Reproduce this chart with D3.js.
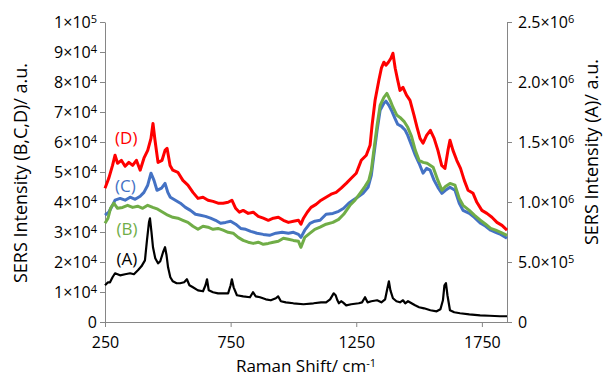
<!DOCTYPE html>
<html>
<head>
<meta charset="utf-8">
<script src="https://cdn.jsdelivr.net/npm/d3@7"></script>
<style>
  body { margin: 0; background: #fff; }
  svg { display: block; font-family: "Open Sans", sans-serif; }
</style>
</head>
<body>
<div id="chart"></div>
<script>
// values: [Raman shift (cm-1), intensity]
// (B), (C), (D) go on the left axis, (A) on the right axis
const seriesD = [
  [250,44600],[265,47900],[280,52200],[290,55600],[300,52900],[315,53900],[330,51900],[345,53200],
  [360,52200],[375,53900],[390,50600],[405,54600],[420,57200],[433,61200],[441,66200],[449,60600],
  [461,53200],[477,53900],[489,57200],[497,57900],[509,52200],[520,50600],[540,49900],[560,47200],
  [580,45600],[600,43200],[620,41200],[640,41600],[660,40600],[680,40200],[700,39600],[720,39600],
  [740,39900],[755,40600],[770,37900],[785,36600],[800,37200],[820,36200],[840,36600],[860,35200],
  [880,34600],[900,33900],[920,34600],[940,34900],[960,33900],[980,33200],[1000,33600],[1020,33900],
  [1030,32600],[1040,34600],[1055,36600],[1070,38200],[1090,39200],[1110,40600],[1130,41600],[1150,42600],
  [1170,43200],[1190,44600],[1210,46200],[1230,47900],[1250,49600],[1270,53900],[1290,55600],[1305,58900],
  [1313,65600],[1325,73900],[1340,80600],[1350,84600],[1360,86600],[1368,85600],[1378,86600],[1388,87900],
  [1396,89600],[1405,84600],[1415,80600],[1424,77200],[1436,78200],[1450,75600],[1464,73900],[1480,68900],
  [1492,64900],[1504,61200],[1516,59600],[1530,62200],[1545,63900],[1560,61200],[1575,57200],[1590,52200],
  [1603,51200],[1615,57200],[1623,60600],[1635,57200],[1650,53900],[1665,51200],[1680,47200],[1695,43900],
  [1715,42900],[1730,39900],[1750,37200],[1770,36200],[1790,34900],[1810,33200],[1830,32200],[1850,30600]
];
const seriesC = [
  [250,35600],[265,36600],[280,38900],[290,40600],[310,41200],[330,40600],[350,41600],[370,40900],
  [390,41900],[405,43200],[420,45600],[433,49600],[445,47200],[457,43900],[475,44600],[489,46200],
  [500,43200],[510,41600],[530,40600],[550,39600],[570,38200],[590,37200],[610,35900],[630,35600],
  [650,35200],[670,34600],[690,33900],[710,32900],[730,33200],[750,33600],[770,32600],[790,31200],
  [810,30900],[830,30200],[855,29600],[880,29200],[905,28900],[930,29600],[955,29900],[980,29600],
  [1000,29900],[1020,29200],[1030,28200],[1045,30600],[1066,32900],[1085,33600],[1106,33900],[1130,35900],
  [1157,36200],[1180,36900],[1200,37900],[1220,39600],[1237,40600],[1255,41600],[1277,42900],[1297,44900],
  [1310,48900],[1320,55600],[1333,63900],[1345,70600],[1360,72900],[1368,73600],[1380,72200],[1390,70600],
  [1404,67900],[1415,65900],[1430,65200],[1445,63900],[1455,62200],[1470,58900],[1485,55600],[1500,52900],
  [1516,49600],[1530,51200],[1544,50600],[1560,47200],[1575,44900],[1591,42900],[1605,43900],[1623,44900],
  [1643,43900],[1660,39600],[1675,37200],[1700,36200],[1720,34900],[1745,32900],[1765,31900],[1785,30600],
  [1805,29900],[1825,29200],[1850,27900]
];
const seriesB = [
  [250,32900],[262,34600],[272,37900],[285,39600],[300,37900],[320,38200],[340,38900],[360,38200],
  [380,38600],[400,37900],[420,38900],[440,38200],[460,37600],[480,36600],[500,35600],[520,34900],
  [540,34600],[560,33900],[580,33200],[600,31900],[620,30900],[640,31900],[660,31600],[680,30900],
  [700,31200],[720,30600],[740,29900],[760,29600],[780,28200],[800,27200],[820,26600],[840,26200],
  [860,26600],[880,25900],[900,26200],[920,26600],[940,26900],[960,27900],[980,27600],[1000,27200],
  [1020,26900],[1030,24900],[1045,28200],[1066,29600],[1085,30900],[1106,31600],[1130,32600],[1157,33200],
  [1180,34200],[1200,35900],[1225,38900],[1245,40600],[1265,42900],[1285,45200],[1300,47200],[1310,50600],
  [1320,57200],[1333,65600],[1345,72200],[1360,74900],[1372,76200],[1385,73900],[1396,71600],[1412,68900],
  [1424,68200],[1440,66900],[1455,64900],[1470,61900],[1485,57200],[1500,53900],[1516,53200],[1532,52900],
  [1556,51600],[1575,47200],[1591,43900],[1605,45200],[1623,46200],[1643,45600],[1660,41200],[1675,38900],
  [1700,37200],[1720,35600],[1745,33900],[1765,32600],[1785,31200],[1805,30600],[1825,29900],[1850,28900]
];
const seriesA = [
  [250,306000],[262,331000],[270,331000],[280,373000],[290,406000],[300,398000],[310,389000],[330,398000],
  [350,406000],[365,398000],[381,431000],[395,464000],[409,514000],[417,681000],[425,831000],[429,864000],
  [435,748000],[441,623000],[450,531000],[461,489000],[470,506000],[481,581000],[489,623000],[495,556000],
  [501,456000],[510,373000],[520,339000],[535,323000],[549,323000],[565,331000],[576,356000],[586,306000],
  [600,289000],[620,264000],[640,256000],[650,306000],[656,356000],[663,264000],[680,248000],[700,239000],
  [720,239000],[740,239000],[750,306000],[755,356000],[762,289000],[775,223000],[800,214000],[827,206000],
  [839,248000],[850,214000],[867,206000],[890,189000],[910,181000],[930,198000],[939,214000],[950,173000],
  [970,164000],[1000,156000],[1040,148000],[1080,156000],[1110,164000],[1130,164000],[1146,189000],[1160,239000],
  [1168,223000],[1175,181000],[1181,156000],[1190,173000],[1197,164000],[1210,139000],[1230,148000],[1260,156000],
  [1273,164000],[1285,206000],[1295,164000],[1310,173000],[1333,181000],[1350,164000],[1365,189000],[1374,281000],
  [1380,339000],[1386,264000],[1396,198000],[1410,173000],[1424,164000],[1436,181000],[1445,156000],[1456,173000],
  [1470,156000],[1484,139000],[1500,123000],[1520,114000],[1545,98000],[1570,89000],[1585,106000],[1595,181000],
  [1601,306000],[1607,323000],[1613,223000],[1623,98000],[1640,81000],[1663,73000],[1700,64000],[1743,56000],
  [1780,52000],[1822,48000],[1850,48000]
];

const xTicks = [250, 750, 1250, 1750];
const leftTicks = [0, 1e4, 2e4, 3e4, 4e4, 5e4, 6e4, 7e4, 8e4, 9e4, 1e5];
const rightTicks = [0, 5e5, 1e6, 1.5e6, 2e6, 2.5e6];
const labelNames = ['(D)', '(C)', '(B)', '(A)'];
const labelPos = [[290, 59200], [290, 43200], [296, 29000], [296, 477000]];

const width = 603, height = 377;
const margin = {top: 22, right: 96, bottom: 55, left: 105};
const axisColor = '#868686';
const tickFont = '16px';
const titleFont = '17px';

const svg = d3.select('#chart').append('svg')
  .attr('width', width)
  .attr('height', height);

const x = d3.scaleLinear().domain([250, 1850]).range([margin.left, width - margin.right]);
const yLeft = d3.scaleLinear().domain([0, 1e5]).range([height - margin.bottom, margin.top]);
const yRight = d3.scaleLinear().domain([0, 2.5e6]).range([height - margin.bottom, margin.top]);

// tick label with superscript exponent, e.g. 3×10^4
function sciLabel(sel, mant, exp) {
  sel.text(null);
  sel.append('tspan').text(mant + '×10');
  sel.append('tspan').attr('dy', '-0.45em').attr('font-size', '11px').text(exp);
}

// axes
const xAxis = d3.axisBottom(x).tickValues(xTicks).tickSize(5).tickSizeOuter(0).tickFormat(d3.format('d'));
const gx = svg.append('g').attr('transform', 'translate(0,' + (height - margin.bottom) + ')').call(xAxis);

const leftAxis = d3.axisLeft(yLeft).tickValues(leftTicks).tickSize(5).tickSizeOuter(0);
const gl = svg.append('g').attr('transform', 'translate(' + margin.left + ',0)').call(leftAxis);

const rightAxis = d3.axisRight(yRight).tickValues(rightTicks).tickSize(5).tickSizeOuter(0);
const gr = svg.append('g').attr('transform', 'translate(' + (width - margin.right) + ',0)').call(rightAxis);

[gx, gl, gr].forEach(function(g) {
  g.selectAll('path, line').attr('stroke', axisColor).attr('stroke-width', 1);
  g.selectAll('text').attr('fill', '#000').attr('font-size', tickFont).attr('font-family', '"Open Sans", sans-serif');
});
gx.selectAll('text').attr('dy', null).attr('y', 26);
gl.selectAll('text').attr('x', -8).each(function(d) {
  const t = d3.select(this);
  if (d === 0) { t.text('0'); return; }
  if (d >= 1e5) sciLabel(t, d / 1e5, 5);
  else sciLabel(t, d / 1e4, 4);
});
gr.selectAll('text').attr('x', 11).each(function(d) {
  const t = d3.select(this);
  if (d === 0) { t.text('0'); return; }
  if (d >= 1e6) sciLabel(t, d3.format('.1f')(d / 1e6), 6);
  else sciLabel(t, d3.format('.1f')(d / 1e5), 5);
});

// spectra
const lineLeft = d3.line().x(d => x(d[0])).y(d => yLeft(d[1]));
const lineRight = d3.line().x(d => x(d[0])).y(d => yRight(d[1]));

svg.append('path').datum(seriesA).attr('d', lineRight)
  .attr('fill', 'none').attr('stroke', '#000').attr('stroke-width', 2.2).attr('stroke-linejoin', 'round');
svg.append('path').datum(seriesC).attr('d', lineLeft)
  .attr('fill', 'none').attr('stroke', '#4472C4').attr('stroke-width', 3).attr('stroke-linejoin', 'round');
svg.append('path').datum(seriesB).attr('d', lineLeft)
  .attr('fill', 'none').attr('stroke', '#70AD47').attr('stroke-width', 3).attr('stroke-linejoin', 'round');
svg.append('path').datum(seriesD).attr('d', lineLeft)
  .attr('fill', 'none').attr('stroke', '#FF0000').attr('stroke-width', 3).attr('stroke-linejoin', 'round');

// series labels
const labelColors = ['#FF0000', '#4472C4', '#70AD47', '#000'];
labelNames.forEach(function(name, i) {
  const p = labelPos[i];
  const yy = i === 3 ? yRight(p[1]) : yLeft(p[1]);
  svg.append('text')
    .attr('x', x(p[0]))
    .attr('y', yy)
    .attr('fill', labelColors[i])
    .attr('font-size', '17px')
    .text(name);
});

// axis titles
svg.append('text')
  .attr('x', (x(250) + x(1850)) / 2)
  .attr('y', 372)
  .attr('text-anchor', 'middle')
  .attr('font-size', titleFont)
  .text('Raman Shift/ cm')
  .append('tspan').attr('dy', '-0.45em').attr('font-size', '11px').text('-1');

svg.append('text')
  .attr('transform', 'translate(27,173) rotate(-90)')
  .attr('text-anchor', 'middle')
  .attr('font-size', '18px')
  .text('SERS Intensity (B,C,D)/ a.u.');

svg.append('text')
  .attr('transform', 'translate(598,152) rotate(-90)')
  .attr('text-anchor', 'middle')
  .attr('font-size', '18px')
  .text('SERS Intensity (A)/ a.u.');
</script>
</body>
</html>
